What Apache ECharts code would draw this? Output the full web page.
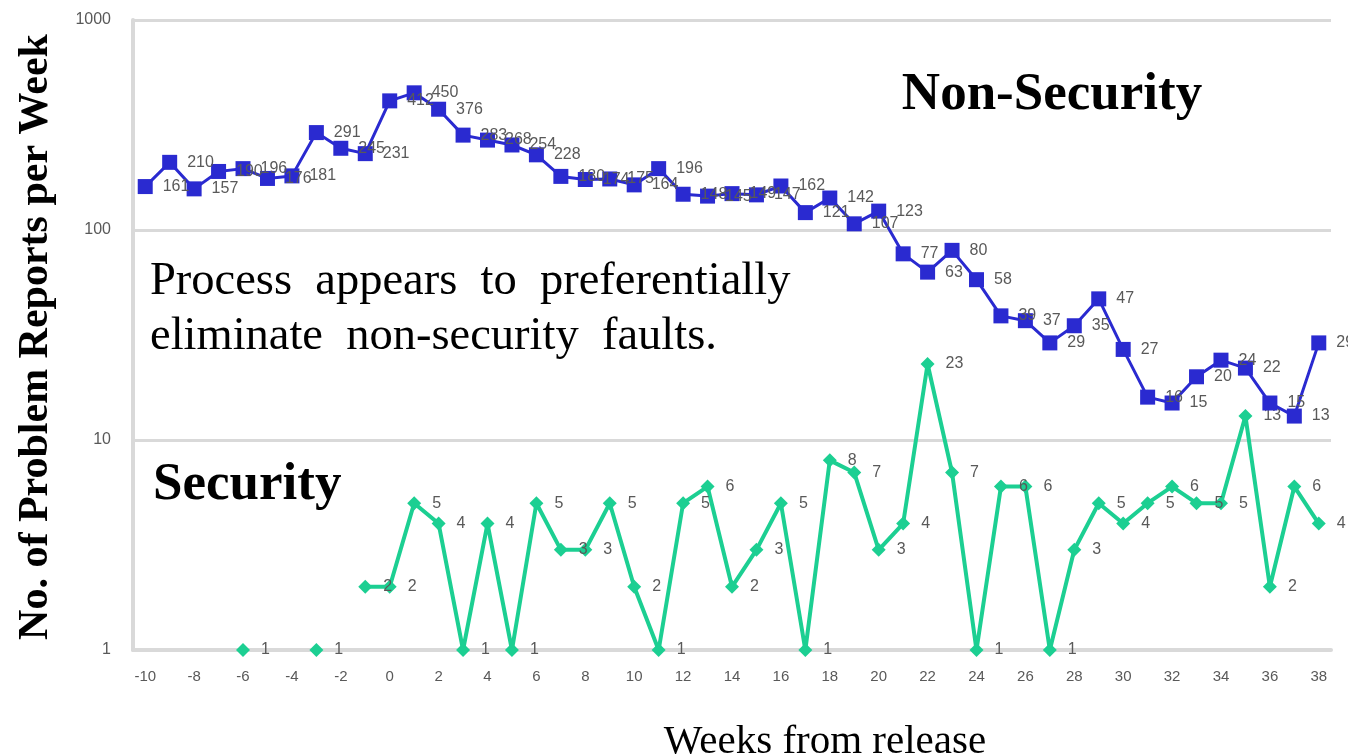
<!DOCTYPE html>
<html><head><meta charset="utf-8">
<script src="https://cdn.jsdelivr.net/npm/echarts@6/dist/echarts.min.js"></script>
<style>html,body{margin:0;padding:0;background:#fff}#c{width:1348px;height:754px}</style>
</head><body><div id="c"></div>
<script>
var weeks = [];
for (var w = -10; w <= 38; w++) weeks.push(String(w));
var nonSecurity = [161,210,157,190,196,176,181,291,245,231,412,450,376,283,268,254,228,180,174,175,164,196,148,145,149,147,162,121,142,107,123,77,63,80,58,39,37,29,35,47,27,16,15,20,24,22,15,13,29];
var security = [null,null,null,null,1,null,null,1,null,2,2,5,4,1,4,1,5,3,3,5,2,1,5,6,2,3,5,1,8,7,3,4,23,7,1,6,6,1,3,5,4,5,6,5,5,13,2,6,4];
var yTicks = [1,10,100,1000];

var chart = echarts.init(document.getElementById('c'));
var lblFont = {color:'#595959', fontSize:16, fontFamily:'"Liberation Sans", Arial, sans-serif'};
chart.setOption({
  animation:false,
  backgroundColor:'#fff',
  grid:{left:133, right:17, top:20, bottom:104, containLabel:false},
  xAxis:{type:'category', data:weeks, boundaryGap:true,
    axisLine:{lineStyle:{color:'#d9d9d9', width:4}},
    axisTick:{show:false},
    axisLabel:{interval:1, color:'#595959', fontSize:15, margin:19, fontFamily:'"Liberation Sans", Arial, sans-serif'},
    splitLine:{show:false}},
  yAxis:{type:'log', logBase:10, min:1, max:1000,
    axisLine:{show:true, lineStyle:{color:'#d9d9d9', width:4}},
    axisTick:{show:false},
    axisLabel:{color:'#595959', fontSize:16, margin:22, fontFamily:'"Liberation Sans", Arial, sans-serif',
      formatter:function(v){ return yTicks.indexOf(Math.round(v))>=0 ? String(Math.round(v)) : ''; }},
    splitLine:{show:true, lineStyle:{color:'#d9d9d9', width:3}}},
  series:[
    {name:'Security', type:'line', data:security, connectNulls:false,
      symbol:'diamond', symbolSize:14, showAllSymbol:true,
      itemStyle:{color:'#1ccf92'}, lineStyle:{color:'#1ccf92', width:4},
      label:Object.assign({show:true, position:'right', distance:11}, lblFont), z:2},
    {name:'Non-Security', type:'line', data:nonSecurity,
      symbol:'rect', symbolSize:15, showAllSymbol:true,
      itemStyle:{color:'#2a2ad0'}, lineStyle:{color:'#2a2ad0', width:3},
      label:Object.assign({show:true, position:'right', distance:10}, lblFont), z:3}
  ],
  graphic:[
    {type:'text', x:1052, y:95, style:{text:'Non-Security', font:'bold 53px "Liberation Serif", serif', fill:'#000', textAlign:'center', textVerticalAlign:'middle'}},
    {type:'text', x:150, y:282, style:{text:'Process  appears  to  preferentially', font:'46.5px "Liberation Serif", serif', fill:'#000', textAlign:'left', textVerticalAlign:'middle'}},
    {type:'text', x:150, y:337, style:{text:'eliminate  non-security  faults.', font:'46.5px "Liberation Serif", serif', fill:'#000', textAlign:'left', textVerticalAlign:'middle'}},
    {type:'text', x:153, y:485, style:{text:'Security', font:'bold 53px "Liberation Serif", serif', fill:'#000', textAlign:'left', textVerticalAlign:'middle'}},
    {type:'text', x:36, y:337, rotation:Math.PI/2, style:{text:'No. of Problem Reports per Week', font:'bold 42px "Liberation Serif", serif', fill:'#000', textAlign:'center', textVerticalAlign:'middle'}},
    {type:'text', x:825, y:742, style:{text:'Weeks from release', font:'41px "Liberation Serif", serif', fill:'#000', textAlign:'center', textVerticalAlign:'middle'}}
  ]
});
</script></body></html>
